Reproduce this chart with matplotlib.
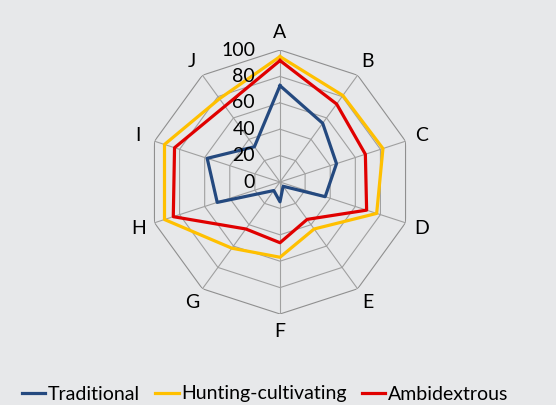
import numpy as np
import matplotlib
matplotlib.use("Agg")
import matplotlib.pyplot as plt

plt.rcParams['font.family'] = ['Lato', 'DejaVu Sans']

categories = ['A', 'B', 'C', 'D', 'E', 'F', 'G', 'H', 'I', 'J']
traditional = [73, 55, 45, 36, 4, 15, 8, 50, 58, 33]
hunting = [95, 81, 82, 77, 44, 57, 62, 92, 92, 78]
ambidextrous = [92, 73, 68, 69, 35, 46, 44, 85, 84, 71]
levels = [0, 20, 40, 60, 80, 100]

bg = '#e7e8ea'
fs = 14
fig = plt.figure(figsize=(5.56, 4.05), dpi=100, facecolor=bg)
cx, cy, rx, ry = 280 / 556, 1 - 182 / 405, 132 / 556, 132 / 405
ax = fig.add_axes([cx - rx, cy - ry, 2 * rx, 2 * ry], projection='polar')
ax.set_facecolor('none')
ax.set_theta_offset(np.pi / 2)
ax.set_theta_direction(-1)
ax.set_ylim(0, 100)
ax.grid(False)
ax.spines['polar'].set_visible(False)
ax.set_xticks([])
ax.set_yticks([])

n = len(categories)
ang = np.linspace(0, 2 * np.pi, n, endpoint=False)
closed = np.append(ang, ang[0])

# decagon grid
for lv in levels[1:]:
    ax.plot(closed, [lv] * (n + 1), color='#8f8f8f' if lv == 100 else '#a0a0a0',
            lw=0.8, zorder=1)
for a in ang:
    ax.plot([a, a], [0, 100], color='#a0a0a0', lw=0.8, zorder=1)

def close(v):
    return list(v) + [v[0]]

ax.plot(closed, close(traditional), color='#24497f', lw=2.3, zorder=3)
ax.plot(closed, close(hunting), color='#ffc000', lw=2.3, zorder=3)
ax.plot(closed, close(ambidextrous), color='#e00000', lw=2.3, zorder=4)

for a, c in zip(ang, categories):
    ax.text(a, 113, c, ha='center', va='center', fontsize=fs, color='black')

for lv in levels:
    ax.annotate(str(lv), xy=(0, lv), xytext=(-18, 0), textcoords='offset points',
                ha='right', va='center', fontsize=fs, color='black')

handles = [plt.Line2D([], [], color=c, lw=2.3) for c in ['#24497f', '#ffc000', '#e00000']]
fig.legend(handles, ['Traditional', 'Hunting-cultivating', 'Ambidextrous'],
           loc='center', bbox_to_anchor=(265 / 556, 1 - 394 / 405), ncol=3,
           frameon=False, fontsize=fs, handlelength=1.2, handletextpad=0.12,
           columnspacing=0.8)

fig.savefig('out.png', dpi=100, facecolor=bg)
